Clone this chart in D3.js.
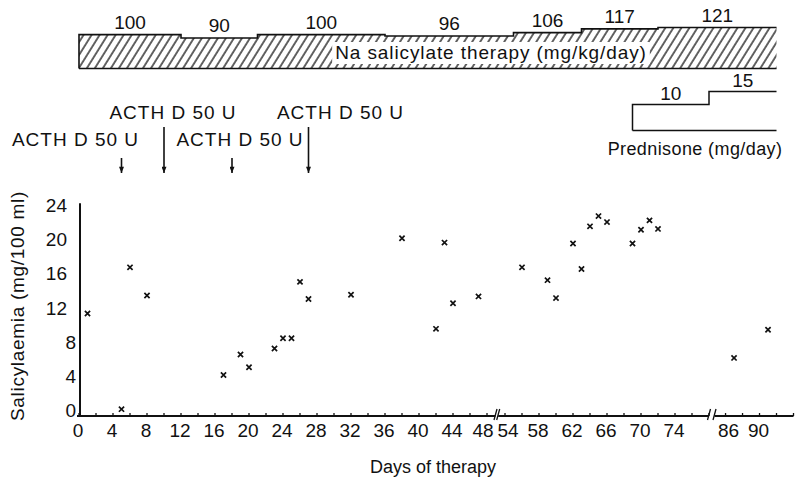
<!DOCTYPE html>
<html>
<head>
<meta charset="utf-8">
<script src="https://cdn.jsdelivr.net/npm/d3@7"></script>
<style>
  body { margin: 0; background: #fff; }
  svg text { font-family: "Liberation Sans", Arial, Helvetica, sans-serif; fill: #111; }
</style>
</head>
<body>
<div id="chart"></div>
<script>
// salicylaemia readings (day, mg/100 ml)
const days = [1, 5, 6, 8, 17, 19, 20, 23, 24, 25, 26, 27, 32, 38, 42, 43, 44, 47,
  56, 59, 60, 62, 63, 64, 65, 66, 69, 70, 71, 72, 87, 91];
const salicylaemia = [11.3, 0.1, 16.7, 13.4, 4.1, 6.5, 5.0, 7.2, 8.4, 8.4, 15.0, 13.0, 13.5, 20.1, 9.5, 19.6, 12.5, 13.3,
  16.7, 15.2, 13.1, 19.5, 16.5, 21.5, 22.7, 22.0, 19.5, 21.1, 22.2, 21.2, 6.1, 9.4];

const yTicks = [0, 4, 8, 12, 16, 20, 24];
const xTickLabels = [0, 4, 8, 12, 16, 20, 24, 28, 32, 36, 40, 44, 48, 54, 58, 62, 66, 70, 74, 86, 90];

// Na salicylate dose steps (start day, mg/kg/day)
const naStartDays = [0, 12, 21, 36, 55, 63, 72];
const naDoses = [100, 90, 100, 96, 106, 117, 121];
const naEndDay = 92;

// prednisone dose steps (start day, mg/day)
const predStartDays = [69, 78];
const predDoses = [10, 15];
const predEndDay = 92;

// ACTH injections
const acthDays = [5, 10, 18, 27];
const acthLabels = ['ACTH D 50 U', 'ACTH D 50 U', 'ACTH D 50 U', 'ACTH D 50 U'];

const width = 806;
const height = 480;

const svg = d3.select('#chart').append('svg')
  .attr('width', width)
  .attr('height', height);

// broken day axis: three pieces at the same scale
const segments = [[0, 49], [53.2, 78], [84.7, 94]];
const x = d3.scaleLinear()
  .domain([0, 49, 53.2, 78, 84.7, 94])
  .range([79, 495.5, 498.2, 709, 714.5, 793.5]);
const y = d3.scaleLinear().domain([0, 24]).range([410, 205]);
const axisY = 416;

const defs = svg.append('defs');
defs.append('pattern')
  .attr('id', 'hatch')
  .attr('patternUnits', 'userSpaceOnUse')
  .attr('width', 6.8)
  .attr('height', 10)
  .attr('patternTransform', 'rotate(32)')
  .append('line')
  .attr('x1', 1).attr('y1', 0).attr('x2', 1).attr('y2', 10)
  .attr('stroke', '#111')
  .attr('stroke-width', 1.3);

defs.append('marker')
  .attr('id', 'arrow')
  .attr('viewBox', '0 0 10 8')
  .attr('refX', 10).attr('refY', 4)
  .attr('markerWidth', 8).attr('markerHeight', 5)
  .attr('markerUnits', 'userSpaceOnUse')
  .attr('orient', 'auto')
  .append('path')
  .attr('d', 'M0,0 L10,4 L0,8 Z')
  .attr('fill', '#111');

// ---- x axis ----
const gx = svg.append('g');
segments.forEach(([a, b], i) => {
  const x0 = i === 0 ? 77 : x(a);
  gx.append('line')
    .attr('x1', x0).attr('x2', x(b))
    .attr('y1', axisY).attr('y2', axisY)
    .attr('stroke', '#111').attr('stroke-width', 2);
  const first = Math.ceil(a / 2) * 2;
  d3.range(first, b + 0.01, 2).forEach((d) => {
    gx.append('line')
      .attr('x1', x(d)).attr('x2', x(d))
      .attr('y1', axisY).attr('y2', axisY - 3)
      .attr('stroke', '#111').attr('stroke-width', 1.3);
  });
});
// break marks
[[49, 53.2], [78, 84.7]].forEach(([a, b]) => {
  [x(a), x(b)].forEach((xx) => {
    gx.append('line')
      .attr('x1', xx - 1.5).attr('y1', axisY + 4)
      .attr('x2', xx + 1.5).attr('y2', axisY - 7)
      .attr('stroke', '#111').attr('stroke-width', 1.3);
  });
});
// nudge labels that sit next to a break so they don't collide
const labelDx = (d) => {
  const seg = segments.find(([a, b]) => d >= a && d <= b);
  if (seg && seg[0] > 0 && d - seg[0] < 1.5) return 3;
  if (seg && seg[1] - d < 1.5) return -4;
  return -1;
};
gx.selectAll('.xlab')
  .data(xTickLabels)
  .enter()
  .append('text')
  .attr('class', 'xlab')
  .attr('x', (d) => x(d) + labelDx(d))
  .attr('y', 437)
  .attr('text-anchor', 'middle')
  .style('font-size', '19px')
  .text((d) => d);

svg.append('text')
  .attr('x', 433)
  .attr('y', 473)
  .attr('text-anchor', 'middle')
  .style('font-size', '18px')
  .text('Days of therapy');

// ---- y axis ----
svg.append('line')
  .attr('x1', 80).attr('x2', 80)
  .attr('y1', axisY + 1).attr('y2', y(24.2))
  .attr('stroke', '#111').attr('stroke-width', 2);
svg.selectAll('.ylab')
  .data(yTicks)
  .enter()
  .append('text')
  .attr('class', 'ylab')
  .attr('x', (d) => (d < 10 ? 76 : 67))
  .attr('y', (d) => y(d) + 7)
  .attr('text-anchor', 'end')
  .style('font-size', '19px')
  .text((d) => d);

svg.append('text')
  .attr('transform', 'translate(24,306) rotate(-90)')
  .attr('text-anchor', 'middle')
  .style('font-size', '19px')
  .style('letter-spacing', '0.7px')
  .text('Salicylaemia (mg/100 ml)');

// ---- data points (crosses) ----
const pts = days.map((d, i) => ({ day: d, value: salicylaemia[i] }));
const marks = svg.append('g').selectAll('.pt')
  .data(pts)
  .enter()
  .append('g')
  .attr('transform', (d) => `translate(${x(d.day)},${y(d.value)})`);
marks.append('path')
  .attr('d', 'M-2.6,-2.6 L2.6,2.6 M-2.6,2.6 L2.6,-2.6')
  .attr('stroke', '#111')
  .attr('stroke-width', 1.7);

// ---- Na salicylate bar ----
const naBottom = 68.5;
const naH = d3.scaleLinear().domain([0, 121]).range([0, 41]);
const naSteps = naStartDays.map((d, i) => ({
  start: d,
  end: i < naStartDays.length - 1 ? naStartDays[i + 1] : naEndDay,
  dose: naDoses[i],
}));
let topPath = `M${x(naSteps[0].start)},${naBottom}`;
naSteps.forEach((s) => {
  const t = naBottom - naH(s.dose);
  topPath += ` L${x(s.start)},${t} L${x(s.end)},${t}`;
});
const gBar = svg.append('g');
gBar.append('path')
  .attr('d', `${topPath} L${x(naEndDay)},${naBottom} Z`)
  .attr('fill', 'url(#hatch)');
const naBox = gBar.append('rect').attr('fill', '#fff');
gBar.append('path')
  .attr('d', topPath)
  .attr('fill', 'none')
  .attr('stroke', '#111')
  .attr('stroke-width', 1.6);
gBar.append('line')
  .attr('x1', x(0)).attr('x2', x(naEndDay))
  .attr('y1', naBottom).attr('y2', naBottom)
  .attr('stroke', '#111').attr('stroke-width', 1.6);

const naLabel = gBar.append('text')
  .attr('x', 491)
  .attr('y', 59)
  .attr('text-anchor', 'middle')
  .style('font-size', '19px')
  .style('letter-spacing', '0.9px')
  .text('Na salicylate therapy (mg/kg/day)');
const bb = naLabel.node().getBBox();
naBox
  .attr('x', bb.x - 3)
  .attr('y', 42)
  .attr('width', bb.width + 6)
  .attr('height', 22);

svg.selectAll('.nadose')
  .data(naSteps)
  .enter()
  .append('text')
  .attr('class', 'nadose')
  .attr('x', (d) => (x(d.start) + x(d.end)) / 2)
  .attr('y', (d) => naBottom - naH(d.dose) - 6)
  .attr('text-anchor', 'middle')
  .style('font-size', '19px')
  .text((d) => d.dose);

// ---- prednisone ----
const predBottom = 130.5;
const predH = d3.scaleLinear().domain([0, 15]).range([0, 39]);
const predSteps = predStartDays.map((d, i) => ({
  start: d,
  end: i < predStartDays.length - 1 ? predStartDays[i + 1] : predEndDay,
  dose: predDoses[i],
}));
let predPath = `M${x(predSteps[0].start)},${predBottom}`;
predSteps.forEach((s) => {
  const t = predBottom - predH(s.dose);
  predPath += ` L${x(s.start)},${t} L${x(s.end)},${t}`;
});
svg.append('path')
  .attr('d', predPath)
  .attr('fill', 'none')
  .attr('stroke', '#111')
  .attr('stroke-width', 1.5);
svg.append('line')
  .attr('x1', x(predStartDays[0])).attr('x2', x(predEndDay))
  .attr('y1', predBottom).attr('y2', predBottom)
  .attr('stroke', '#111').attr('stroke-width', 1.5);
svg.selectAll('.preddose')
  .data(predSteps)
  .enter()
  .append('text')
  .attr('class', 'preddose')
  .attr('x', (d) => (x(d.start) + x(d.end)) / 2)
  .attr('y', (d) => predBottom - predH(d.dose) - 5)
  .attr('text-anchor', 'middle')
  .style('font-size', '19px')
  .text((d) => d.dose);
svg.append('text')
  .attr('x', 695)
  .attr('y', 155)
  .attr('text-anchor', 'middle')
  .style('font-size', '18px')
  .style('letter-spacing', '0.4px')
  .text('Prednisone (mg/day)');

// ---- ACTH arrows ----
// alternate injections sit on the upper row with long arrows
const acthRow = (i) => (i % 2 === 1 ? 0 : 1);
const acthDx = [-46, 9, 8, 32];
const arrowBottom = 173;
svg.selectAll('.acth-arrow')
  .data(acthDays)
  .enter()
  .append('line')
  .attr('class', 'acth-arrow')
  .attr('x1', (d) => x(d)).attr('x2', (d) => x(d))
  .attr('y1', (d, i) => (acthRow(i) === 0 ? 127 : 158))
  .attr('y2', arrowBottom)
  .attr('stroke', '#111')
  .attr('stroke-width', 1.6)
  .attr('marker-end', 'url(#arrow)');
svg.selectAll('.acth-label')
  .data(acthDays)
  .enter()
  .append('text')
  .attr('class', 'acth-label')
  .attr('x', (d, i) => x(d) + acthDx[i])
  .attr('y', (d, i) => (acthRow(i) === 0 ? 119 : 146))
  .attr('text-anchor', 'middle')
  .style('font-size', '19px')
  .style('letter-spacing', '1px')
  .text((d, i) => acthLabels[i]);
</script>
</body>
</html>
